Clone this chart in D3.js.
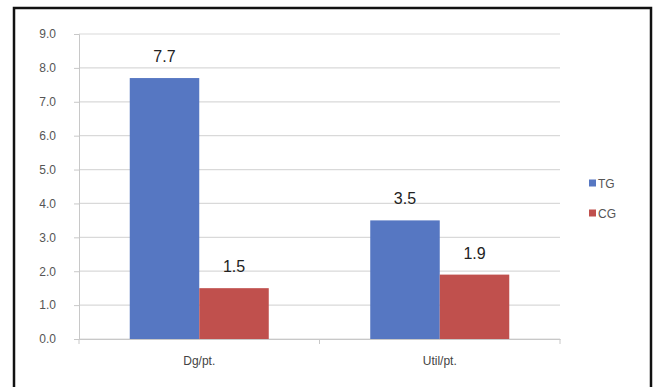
<!DOCTYPE html>
<html>
<head>
<meta charset="utf-8">
<script src="https://cdn.jsdelivr.net/npm/d3@7"></script>
<style>
  body { margin: 0; background: #fff; }
  svg { display: block; font-family: "Liberation Sans", Arial, sans-serif; }
</style>
</head>
<body>
<svg id="chart" width="658" height="387"></svg>
<script>
const categories = ["Dg/pt.", "Util/pt."];
const seriesNames = ["TG", "CG"];
const tgValues = [7.7, 3.5];
const cgValues = [1.5, 1.9];
const yTicks = [0, 1, 2, 3, 4, 5, 6, 7, 8, 9];
const colors = ["#5677c2", "#c0504d"];

const svg = d3.select("#chart");

// outer frame
svg.append("rect")
  .attr("x", 14).attr("y", 8)
  .attr("width", 637).attr("height", 390)
  .attr("fill", "none").attr("stroke", "#111").attr("stroke-width", 2.5);

const plotLeft = 79, plotRight = 560, plotTop = 34, plotBottom = 339;

const x = d3.scaleBand().domain(categories).range([plotLeft, plotRight]);
const xs = d3.scaleBand().domain(seriesNames).range([0, x.bandwidth()]).paddingInner(0).paddingOuter(0.73);
const y = d3.scaleLinear().domain([0, 9]).range([plotBottom, plotTop]);

// gridlines
svg.append("g")
  .selectAll("line")
  .data(yTicks)
  .join("line")
  .attr("x1", plotLeft).attr("x2", plotRight)
  .attr("y1", d => y(d)).attr("y2", d => y(d))
  .attr("stroke", "#d9d9d9").attr("stroke-width", 1.2);

// y axis
const yAxis = svg.append("g")
  .attr("transform", `translate(${plotLeft},0)`)
  .call(d3.axisLeft(y).tickValues(yTicks).tickFormat(d3.format(".1f")).tickSize(5).tickPadding(18));
yAxis.select(".domain").attr("stroke", "#c8c8c8");
yAxis.selectAll(".tick line").attr("stroke", "#c8c8c8");
yAxis.selectAll("text").attr("font-size", 12).attr("fill", "#555");

// x axis
const xAxis = svg.append("g")
  .attr("transform", `translate(0,${plotBottom})`)
  .call(d3.axisBottom(x).tickSize(0).tickPadding(17));
xAxis.select(".domain").attr("stroke", "#c8c8c8");
xAxis.selectAll("text").attr("font-size", 12).attr("fill", "#444");
svg.append("g")
  .selectAll("line")
  .data([plotLeft, plotLeft + x.step(), plotRight])
  .join("line")
  .attr("x1", d => d).attr("x2", d => d)
  .attr("y1", plotBottom).attr("y2", plotBottom + 5)
  .attr("stroke", "#c8c8c8");

// bars
const rows = categories.map((c, i) => ({c, vals: [tgValues[i], cgValues[i]]}));
const groups = svg.append("g")
  .selectAll("g")
  .data(rows)
  .join("g")
  .attr("transform", d => `translate(${x(d.c)},0)`);

groups.selectAll("rect")
  .data(d => d.vals.map((v, j) => ({s: seriesNames[j], v, j})))
  .join("rect")
  .attr("x", d => xs(d.s))
  .attr("width", xs.bandwidth())
  .attr("y", d => y(d.v))
  .attr("height", d => plotBottom - y(d.v))
  .attr("fill", d => colors[d.j]);

groups.selectAll("text")
  .data(d => d.vals.map((v, j) => ({s: seriesNames[j], v, j})))
  .join("text")
  .attr("x", d => xs(d.s) + xs.bandwidth() / 2)
  .attr("y", d => y(d.v) - 16)
  .attr("text-anchor", "middle")
  .attr("font-size", 16)
  .attr("fill", "#222")
  .text(d => d3.format(".1f")(d.v));

// legend
const legend = svg.append("g")
  .selectAll("g")
  .data(seriesNames)
  .join("g")
  .attr("transform", (d, i) => `translate(589,${183 + i * 30})`);
legend.append("rect")
  .attr("x", 0).attr("y", -3.5)
  .attr("width", 7).attr("height", 7)
  .attr("fill", (d, i) => colors[i]);
legend.append("text")
  .attr("x", 9).attr("y", 4.5)
  .attr("font-size", 12).attr("fill", "#555")
  .text(d => d);
</script>
</body>
</html>
